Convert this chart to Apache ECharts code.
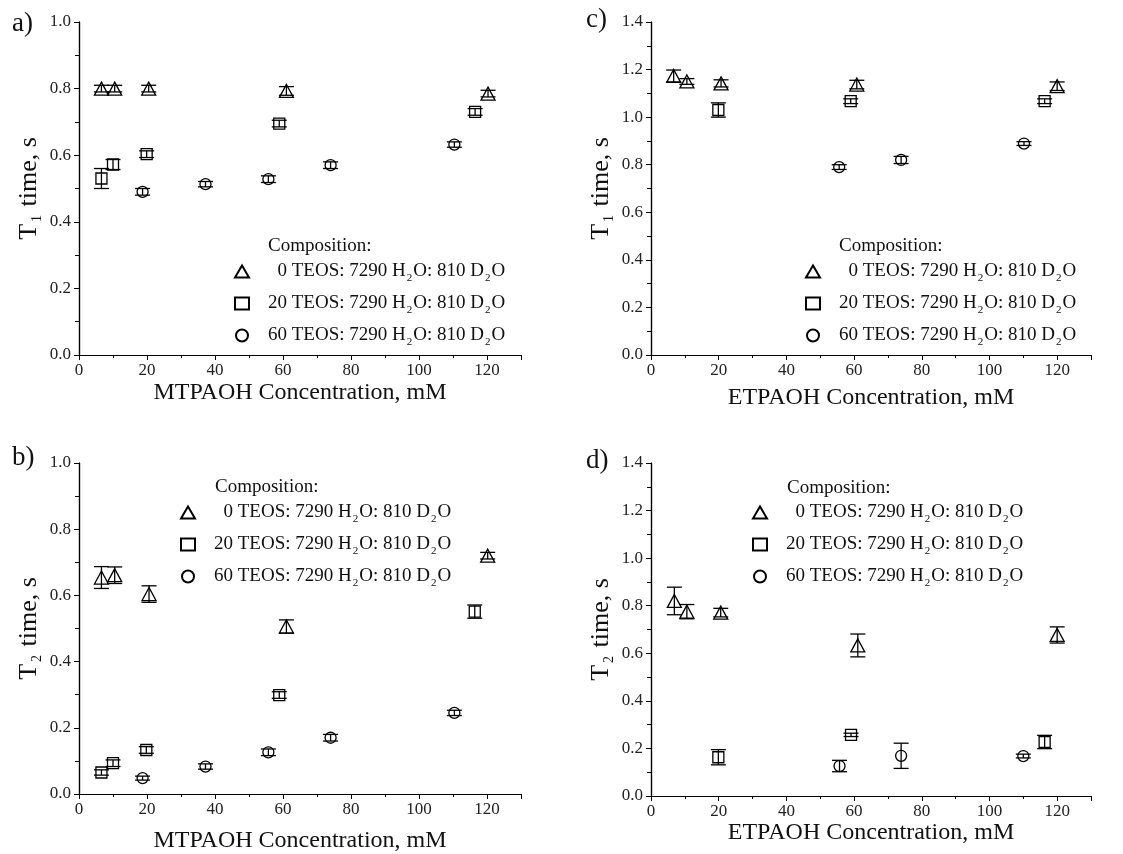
<!DOCTYPE html>
<html>
<head>
<meta charset="utf-8">
<script src="https://cdn.jsdelivr.net/npm/echarts@6/dist/echarts.min.js"></script>
<style>html,body{margin:0;padding:0;background:#fff}#c{width:1123px;height:854px}</style>
</head>
<body>
<div id="c"></div>
<script>
// ---- DATA: each point is [concentration mM, relaxation time s, error s] ----
const teos = [0, 20, 60];
const compositionNames = ['0 TEOS: 7290 H2O: 810 D2O', '20 TEOS: 7290 H2O: 810 D2O', '60 TEOS: 7290 H2O: 810 D2O'];

// a) T1, MTPAOH
const aTri  = [[6.6, 0.800, 0.010], [10.5, 0.800, 0.010], [20.5, 0.800, 0.010], [61.0, 0.793, 0.013], [120.3, 0.785, 0.010]];
const aSq   = [[6.6, 0.530, 0.030], [10.0, 0.572, 0.015], [19.9, 0.603, 0.010], [58.9, 0.695, 0.010], [116.5, 0.730, 0.010]];
const aCirc = [[18.7, 0.490, 0.010], [37.2, 0.513, 0.008], [55.7, 0.528, 0.010], [74.0, 0.570, 0.010], [110.4, 0.632, 0.008]];

// b) T2, MTPAOH
const bTri  = [[6.6, 0.654, 0.033], [10.5, 0.661, 0.025], [20.6, 0.604, 0.025], [61.0, 0.506, 0.020], [120.2, 0.720, 0.010]];
const bSq   = [[6.6, 0.065, 0.008], [10.0, 0.093, 0.010], [19.8, 0.133, 0.010], [58.9, 0.299, 0.010], [116.4, 0.551, 0.020]];
const bCirc = [[18.7, 0.048, 0.006], [37.2, 0.083, 0.008], [55.7, 0.126, 0.010], [74.0, 0.170, 0.010], [110.4, 0.245, 0.008]];

// c) T1, ETPAOH
const cTri  = [[6.7, 1.173, 0.025], [10.6, 1.150, 0.012], [20.7, 1.142, 0.015], [60.8, 1.137, 0.018], [120.0, 1.130, 0.018]];
const cSq   = [[19.9, 1.030, 0.030], [59.0, 1.067, 0.010], [116.3, 1.067, 0.010]];
const cCirc = [[55.6, 0.790, 0.010], [73.9, 0.820, 0.015], [110.2, 0.889, 0.008]];

// d) T2, ETPAOH
const dTri  = [[6.9, 0.820, 0.058], [10.6, 0.775, 0.030], [20.6, 0.771, 0.018], [61.1, 0.633, 0.048], [120.0, 0.677, 0.034]];
const dSq   = [[19.9, 0.163, 0.032], [59.1, 0.257, 0.007], [116.3, 0.227, 0.028]];
const dCirc = [[55.7, 0.126, 0.024], [73.9, 0.169, 0.053], [110.0, 0.168, 0.008]];

const xTitles = ['MTPAOH Concentration, mM', 'ETPAOH Concentration, mM'];
const panelLabels = ['a)', 'b)', 'c)', 'd)'];
// ---------------------------------------------------------------------------

const FONT = "'Liberation Serif', 'Times New Roman', serif";
const panels = [
  {lab: panelLabels[0], sub: '1', xt: xTitles[0], ymax: 1.0, data: [aTri, aSq, aCirc],
   grid: {left: 79, top: 22, width: 442, height: 333}, xGap: 26, labelPos: [12, 10],
   leg: {left: 234, top: 259}, comp: [268, 237]},
  {lab: panelLabels[1], sub: '2', xt: xTitles[0], ymax: 1.0, data: [bTri, bSq, bCirc],
   grid: {left: 79, top: 463, width: 442, height: 333}, xGap: 35, labelPos: [12, 444],
   leg: {left: 180, top: 500}, comp: [215, 478]},
  {lab: panelLabels[2], sub: '1', xt: xTitles[1], ymax: 1.4, data: [cTri, cSq, cCirc],
   grid: {left: 651, top: 22, width: 440, height: 333}, xGap: 31, labelPos: [586, 6],
   leg: {left: 805, top: 259}, comp: [839, 237]},
  {lab: panelLabels[3], sub: '2', xt: xTitles[1], ymax: 1.4, data: [dTri, dSq, dCirc],
   grid: {left: 651, top: 463, width: 440, height: 333}, xGap: 25, labelPos: [586, 447],
   leg: {left: 752, top: 500}, comp: [787, 479]}
];
const symbols = ['triangle', 'rect', 'circle'];
const symSizes = [[14, 13], 11, 11];

const grid = [], xAxis = [], yAxis = [], series = [], legend = [], graphic = [];
const legRich = {
  g: {fontFamily: FONT, fontSize: 19, color: 'rgba(0,0,0,0)', lineHeight: 22, padding: [0, 0, 0, 14]},
  p: {fontFamily: FONT, fontSize: 19, color: '#111', lineHeight: 22, padding: [0, 0, 0, 14]},
  t: {fontFamily: FONT, fontSize: 19, color: '#111', lineHeight: 22},
  s: {fontFamily: FONT, fontSize: 11, color: '#111', padding: [14, 1, 0, 1], lineHeight: 22}
};
function legFmt(name) {
  const n = name.split(' ')[0];
  const head = n.length < 2 ? '{g|2}{t|' + n + '}' : '{p|' + n + '}';
  return head + '{t| TEOS: 7290 H}{s|2}{t|O: 810 D}{s|2}{t|O}';
}

panels.forEach((p, i) => {
  grid.push(p.grid);
  const axLine = {show: true, lineStyle: {color: '#000', width: 1.2}};
  xAxis.push({
    type: 'value', gridIndex: i, min: 0, max: 130, interval: 20,
    axisLine: axLine, splitLine: {show: false},
    axisTick: {show: true, inside: false, length: 5, lineStyle: {color: '#000'}},
    minorTick: {show: true, splitNumber: 2, length: 3, lineStyle: {color: '#000'}},
    axisLabel: {fontFamily: FONT, fontSize: 17, color: '#222', margin: 7, showMaxLabel: false},
    name: p.xt, nameLocation: 'middle', nameGap: p.xGap,
    nameTextStyle: {fontFamily: FONT, fontSize: 24, color: '#111'}
  });
  xAxis.push({
    type: 'value', gridIndex: i, min: 0, max: 130, interval: 20, position: 'top',
    axisLine: axLine, splitLine: {show: false}, axisLabel: {show: false},
    axisTick: {show: true, inside: true, length: 5, lineStyle: {color: '#000'}},
    minorTick: {show: true, splitNumber: 2, length: 3, lineStyle: {color: '#000'}}
  });
  yAxis.push({
    type: 'value', gridIndex: i, min: 0, max: p.ymax, interval: 0.2,
    axisLine: axLine, splitLine: {show: false},
    axisTick: {show: true, inside: false, length: 5, lineStyle: {color: '#000'}},
    minorTick: {show: true, splitNumber: 2, length: 4, lineStyle: {color: '#000'}},
    axisLabel: {fontFamily: FONT, fontSize: 17, color: '#222', margin: 8,
      formatter: v => v.toFixed(1)},
    name: 'T{s|' + p.sub + '} time, s', nameLocation: 'middle', nameGap: 35,
    nameTextStyle: {fontFamily: FONT, fontSize: 26, color: '#111',
      rich: {s: {fontFamily: FONT, fontSize: 14, color: '#111', padding: [16, 2, 0, 2]}}}
  });
  yAxis.push({
    type: 'value', gridIndex: i, min: 0, max: p.ymax, interval: 0.2, position: 'right',
    axisLine: axLine, splitLine: {show: false}, axisLabel: {show: false},
    axisTick: {show: true, inside: true, length: 5, lineStyle: {color: '#000'}},
    minorTick: {show: true, splitNumber: 2, length: 4, lineStyle: {color: '#000'}}
  });
  p.data.forEach((arr, k) => {
    series.push({
      type: 'custom', xAxisIndex: 2 * i, yAxisIndex: 2 * i, silent: true, z: 3,
      data: arr.map(d => [d[0], d[1] - d[2], d[1] + d[2]]),
      renderItem: (params, api) => {
        const lo = api.coord([api.value(0), api.value(1)]);
        const hi = api.coord([api.value(0), api.value(2)]);
        const w = 7.5;
        const st = {stroke: '#000', lineWidth: 1.3};
        return {type: 'group', children: [
          {type: 'line', shape: {x1: lo[0], y1: lo[1], x2: hi[0], y2: hi[1]}, style: st},
          {type: 'line', shape: {x1: lo[0] - w, y1: lo[1], x2: lo[0] + w, y2: lo[1]}, style: st},
          {type: 'line', shape: {x1: hi[0] - w, y1: hi[1], x2: hi[0] + w, y2: hi[1]}, style: st}
        ]};
      }
    });
    series.push({
      type: 'scatter', name: compositionNames[k], xAxisIndex: 2 * i, yAxisIndex: 2 * i, z: 4,
      symbol: symbols[k], symbolSize: symSizes[k],
      itemStyle: {color: 'rgba(255,255,255,0)', borderColor: '#000', borderWidth: 1.3, opacity: 1},
      data: arr.map(d => [d[0], d[1]])
    });
  });
  legend.push({
    left: p.leg.left, top: p.leg.top, orient: 'vertical', itemGap: 7,
    itemWidth: 14, itemHeight: 12, selectedMode: false, padding: 0,
    data: compositionNames.map((n, k) => ({name: n, icon: symbols[k]})),
    formatter: legFmt, textStyle: {rich: legRich}
  });
  graphic.push({type: 'text', left: p.labelPos[0], top: p.labelPos[1],
    style: {text: p.lab, font: '27px ' + FONT, fill: '#111'}});
  graphic.push({type: 'text', left: p.comp[0], top: p.comp[1],
    style: {text: 'Composition:', font: '19px ' + FONT, fill: '#111'}});
});

const chart = echarts.init(document.getElementById('c'), null, {renderer: 'canvas'});
chart.setOption({backgroundColor: '#fff', animation: false, grid, xAxis, yAxis, series, legend, graphic});
</script>
</body>
</html>
